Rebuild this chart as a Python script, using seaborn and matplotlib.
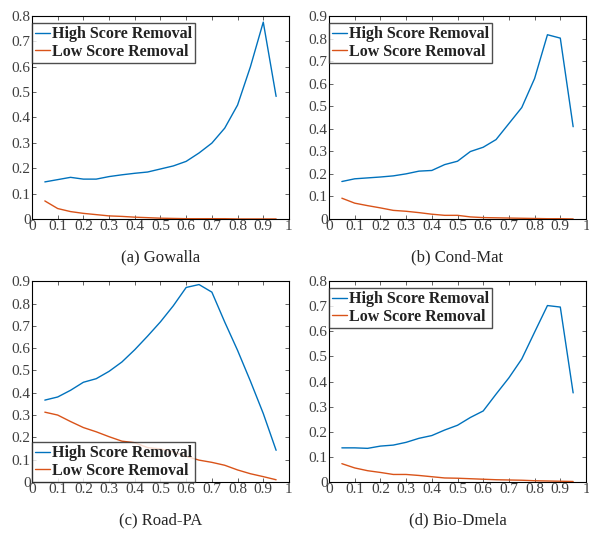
import numpy as np
import pandas as pd
import seaborn as sns
import matplotlib.pyplot as plt

ratio = [0.05, 0.10, 0.15, 0.20, 0.25, 0.30, 0.35, 0.40, 0.45, 0.50,
         0.55, 0.60, 0.65, 0.70, 0.75, 0.80, 0.85, 0.90, 0.95]

gowalla_high = [0.146, 0.155, 0.164, 0.157, 0.157, 0.167, 0.174, 0.180, 0.185, 0.197,
                0.209, 0.227, 0.260, 0.299, 0.358, 0.449, 0.600, 0.776, 0.483]
gowalla_low = [0.071, 0.041, 0.029, 0.022, 0.017, 0.012, 0.010, 0.007, 0.005, 0.003,
               0.002, 0.001, 0.001, 0.001, 0.001, 0.0, 0.0, 0.0, 0.0]

condmat_high = [0.166, 0.178, 0.182, 0.186, 0.191, 0.200, 0.212, 0.215, 0.241, 0.256,
                0.299, 0.318, 0.352, 0.423, 0.494, 0.623, 0.817, 0.802, 0.409]
condmat_low = [0.092, 0.070, 0.059, 0.049, 0.038, 0.034, 0.028, 0.021, 0.016, 0.016,
               0.009, 0.006, 0.005, 0.004, 0.003, 0.002, 0.001, 0.001, 0.0]

roadpa_high = [0.367, 0.381, 0.411, 0.447, 0.463, 0.496, 0.538, 0.593, 0.654, 0.718,
               0.790, 0.872, 0.885, 0.851, 0.717, 0.590, 0.452, 0.307, 0.142]
roadpa_low = [0.313, 0.300, 0.271, 0.244, 0.225, 0.203, 0.183, 0.176, 0.154, 0.148,
              0.135, 0.115, 0.098, 0.088, 0.075, 0.054, 0.037, 0.024, 0.010]

biodmela_high = [0.136, 0.136, 0.134, 0.143, 0.147, 0.158, 0.174, 0.185, 0.207, 0.226,
                 0.257, 0.283, 0.350, 0.415, 0.490, 0.597, 0.703, 0.697, 0.355]
biodmela_low = [0.073, 0.056, 0.045, 0.038, 0.030, 0.030, 0.026, 0.021, 0.016, 0.015,
                0.013, 0.011, 0.009, 0.008, 0.007, 0.005, 0.004, 0.003, 0.002]

panels = [
    ("(a) Gowalla", gowalla_high, gowalla_low, 0.8, "upper left"),
    ("(b) Cond-Mat", condmat_high, condmat_low, 0.9, "upper left"),
    ("(c) Road-PA", roadpa_high, roadpa_low, 0.9, "lower left"),
    ("(d) Bio-Dmela", biodmela_high, biodmela_low, 0.8, "upper left"),
]

sns.set_theme(style="ticks")
plt.rcParams["font.family"] = ["Liberation Serif", "DejaVu Serif"]

colors = {"High Score Removal": "#0072BD", "Low Score Removal": "#D95319"}

fig = plt.figure(figsize=(5.89, 5.34), dpi=100)
# axes boxes in figure fractions: left, bottom, width, height
boxes = [
    (0.0543, 0.590, 0.4363, 0.380),
    (0.5586, 0.590, 0.4363, 0.380),
    (0.0543, 0.0974, 0.4363, 0.376),
    (0.5586, 0.0974, 0.4363, 0.376),
]

for (title, high, low, ymax, loc), box in zip(panels, boxes):
    ax = fig.add_axes(box)
    df = pd.DataFrame({
        "ratio": ratio * 2,
        "value": high + low,
        "method": ["High Score Removal"] * len(ratio) + ["Low Score Removal"] * len(ratio),
    })
    sns.lineplot(data=df, x="ratio", y="value", hue="method", palette=colors,
                 linewidth=1.0, ax=ax)
    ax.set_xlim(0, 1)
    ax.set_ylim(0, ymax)
    xt = np.round(np.arange(0, 1.01, 0.1), 1)
    yt = np.round(np.arange(0, ymax + 0.01, 0.1), 1)
    ax.set_xticks(xt)
    ax.set_xticklabels(["0"] + [f"{v:g}" for v in xt[1:-1]] + ["1"])
    ax.set_yticks(yt)
    ax.set_yticklabels(["0"] + [f"{v:g}" for v in yt[1:]])
    ax.tick_params(direction="in", top=True, right=True, length=3, width=0.5,
                   labelsize=11, pad=1, colors="#262626", labelcolor="#404040")
    for s in ax.spines.values():
        s.set_linewidth(0.8)
        s.set_color("black")
    ax.set_xlabel("")
    ax.set_ylabel("")
    anchor = (0.0, 0.965) if loc == "upper left" else (0.0, 0.0)
    leg = ax.legend(loc=loc, bbox_to_anchor=anchor, frameon=True, fancybox=False,
                    handlelength=0.95, handletextpad=0.1, borderpad=0.2,
                    labelspacing=0.1, borderaxespad=0.0,
                    prop={"weight": "bold", "size": 11.5})
    leg.get_frame().set_edgecolor("#222222")
    leg.get_frame().set_linewidth(1.0)
    for t in leg.get_texts():
        t.set_color("#222222")
    ax.text(0.5, -0.19, title, transform=ax.transAxes, ha="center", va="center",
            fontsize=12)

fig.savefig("out.png", dpi=100)
